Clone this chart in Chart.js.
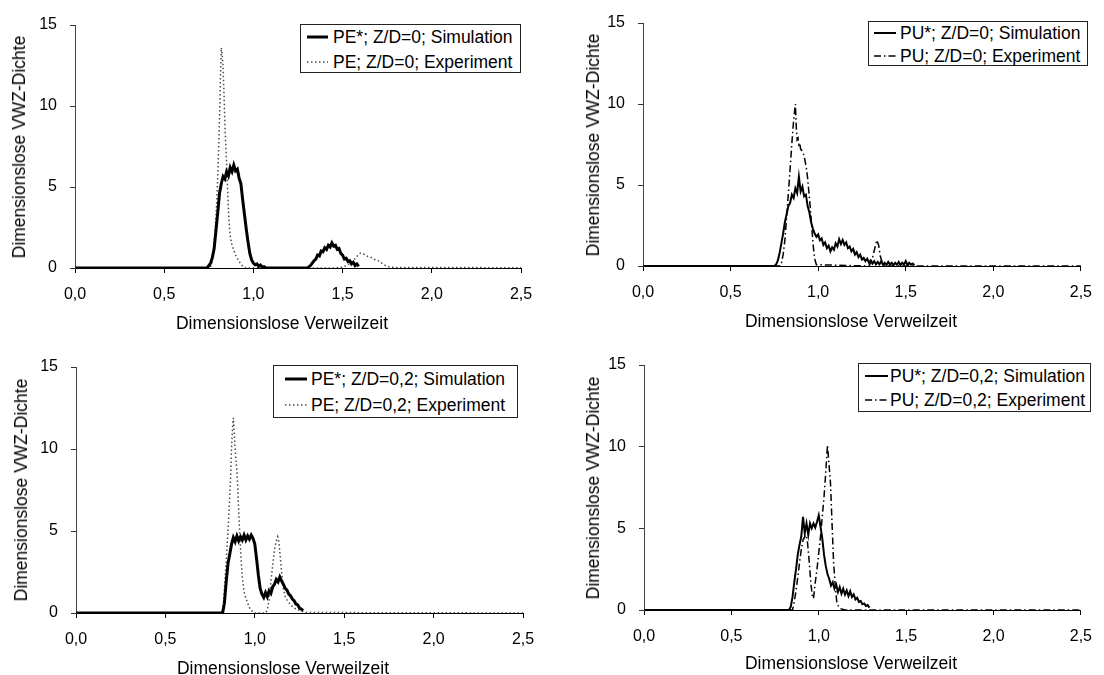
<!DOCTYPE html>
<html><head><meta charset="utf-8">
<script src="https://cdn.jsdelivr.net/npm/chart.js@4.4.1/dist/chart.umd.min.js"></script>
<style>
html,body{margin:0;padding:0;background:#fff;}
#wrap{position:relative;width:1104px;height:675px;overflow:hidden;background:#fff;font-family:"Liberation Sans",Arial,sans-serif;color:#000;}
canvas{position:absolute;}
.lg{position:absolute;border:1px solid #222;background:#fff;box-sizing:border-box;}
.row{position:absolute;height:20px;line-height:20px;white-space:nowrap;font-size:17.5px;}
.smp{position:absolute;}
.yt{position:absolute;white-space:nowrap;font-size:17.5px;line-height:20px;transform:translate(-50%,-50%) rotate(-90deg);}
.xt{position:absolute;white-space:nowrap;font-size:17.5px;line-height:20px;transform:translate(-50%,-50%);}
</style></head><body><div id="wrap"></div>
<script>
// ---------- tick values / labels ----------
const xTickValues = [0, 0.5, 1.0, 1.5, 2.0, 2.5];
const xTickLabels = ['0,0', '0,5', '1,0', '1,5', '2,0', '2,5'];
const yTickValues = [0, 5, 10, 15];
const yTickLabels = ['0', '5', '10', '15'];
const xAxisTitle = 'Dimensionslose Verweilzeit';
const yAxisTitle = 'Dimensionslose VWZ-Dichte';

// ---------- series names ----------
const p1Names = ['PE*; Z/D=0; Simulation', 'PE; Z/D=0; Experiment'];
const p2Names = ['PU*; Z/D=0; Simulation', 'PU; Z/D=0; Experiment'];
const p3Names = ['PE*; Z/D=0,2; Simulation', 'PE; Z/D=0,2; Experiment'];
const p4Names = ['PU*; Z/D=0,2; Simulation', 'PU; Z/D=0,2; Experiment'];

// ---------- panel 1: PE, Z/D=0 ----------
const p1SimX = [0, 0.74,
  0.75, 0.76, 0.77, 0.78, 0.79, 0.80, 0.81, 0.82, 0.83, 0.84,
  0.85, 0.86, 0.87, 0.88, 0.89, 0.90, 0.91, 0.92, 0.93, 0.94,
  0.95, 0.96, 0.97, 0.98, 0.99, 1.00, 1.01, 1.02, 1.03, 1.04,
  1.05, 1.06, 1.07,
  1.30, 1.31, 1.32, 1.33, 1.34, 1.35, 1.36, 1.37, 1.38, 1.39,
  1.40, 1.41, 1.42, 1.43, 1.44, 1.45, 1.46, 1.47, 1.48, 1.49,
  1.50, 1.51, 1.52, 1.53, 1.54, 1.55, 1.56, 1.57, 1.58, 1.59];
const p1SimY = [0, 0,
  0.15, 0.3, 0.65, 1.2, 2.3, 3.4, 4.6, 5.2, 5.65, 5.5,
  5.95, 5.7, 6.2, 5.95, 6.35, 6.0, 6.1, 5.55, 5.2, 4.2,
  3.3, 2.4, 1.6, 0.9, 0.5, 0.3, 0.2, 0.25, 0.1, 0.18,
  0.05, 0.08, 0,
  0, 0.06, 0.15, 0.3, 0.45, 0.55, 0.8, 0.75, 1.05, 1.0,
  1.25, 1.15, 1.4, 1.3, 1.55, 1.35, 1.4, 1.15, 1.2, 0.9,
  0.8, 0.55, 0.6, 0.4, 0.45, 0.25, 0.35, 0.15, 0.25, 0.1];
const p1ExpX = [0, 0.755, 0.765, 0.775, 0.785, 0.795,
  0.80, 0.805, 0.81, 0.815, 0.82, 0.825, 0.83, 0.835, 0.84, 0.845, 0.85, 0.855, 0.86, 0.865, 0.87,
  0.88, 0.89, 0.90, 0.91, 0.92, 0.93, 0.94, 0.95, 0.97,
  1.45, 1.50, 1.53, 1.56, 1.58, 1.60, 1.62, 1.64, 1.66, 1.68, 1.70, 1.72, 1.74, 1.76, 1.80, 2.5];
const p1ExpY = [0, 0, 0.2, 0.8, 2.2, 4.2,
  5.6, 7.3, 9.2, 11.6, 13.6, 13.2, 12.4, 10.8, 9.0, 7.6, 6.4, 5.0, 3.6, 2.6, 2.0,
  1.4, 1.1, 0.8, 0.6, 0.4, 0.25, 0.1, 0.03, 0,
  0, 0.05, 0.2, 0.45, 0.72, 0.92, 0.85, 0.72, 0.65, 0.52, 0.45, 0.3, 0.15, 0.07, 0.03, 0.02];

// ---------- panel 2: PU, Z/D=0 ----------
const p2SimX = [0,
  0.75, 0.76, 0.77, 0.78, 0.79, 0.80, 0.81, 0.82, 0.83, 0.84,
  0.85, 0.86, 0.87, 0.88, 0.89, 0.90, 0.91, 0.92, 0.93, 0.94,
  0.95, 0.96, 0.97, 0.98, 0.99, 1.00, 1.01, 1.02, 1.03, 1.04,
  1.05, 1.06, 1.07, 1.08, 1.09, 1.10, 1.11, 1.12, 1.13, 1.14,
  1.15, 1.16, 1.17, 1.18, 1.19, 1.20, 1.21, 1.22, 1.23, 1.24,
  1.25, 1.26, 1.27, 1.28, 1.29, 1.30, 1.31, 1.32, 1.33, 1.34,
  1.35, 1.36, 1.37, 1.38, 1.39, 1.40, 1.41, 1.42, 1.43, 1.44,
  1.45, 1.46, 1.47, 1.48, 1.49, 1.50, 1.51, 1.52, 1.53, 1.54,
  1.55];
const p2SimY = [0,
  0, 0.1, 0.35, 0.8, 1.4, 2.0, 2.7, 3.2, 3.7, 3.9,
  4.4, 4.2, 4.8, 4.5, 5.5, 4.6, 4.9, 4.3, 4.4, 3.7,
  3.3, 2.7, 2.3, 2.0, 1.8, 1.95, 1.6, 1.7, 1.3, 1.45,
  1.1, 1.25, 0.9, 1.15, 1.0, 1.4, 1.2, 1.65, 1.35, 1.6,
  1.3, 1.45, 1.1, 1.2, 0.9, 1.05, 0.7, 0.85, 0.55, 0.7,
  0.4, 0.5, 0.3, 0.45, 0.2, 0.35, 0.15, 0.3, 0.1, 0.25,
  0.1, 0.3, 0.08, 0.2, 0.05, 0.25, 0.1, 0.2, 0.05, 0.2,
  0.08, 0.25, 0.05, 0.2, 0.1, 0.3, 0.05, 0.2, 0.08, 0.15,
  0.05];
const p2ExpX = [0, 0.785, 0.79, 0.80, 0.81, 0.82, 0.83, 0.84, 0.85, 0.86, 0.87,
  0.875, 0.88, 0.885, 0.89, 0.895, 0.90,
  0.91, 0.92, 0.93, 0.935, 0.94, 0.945, 0.95, 0.955, 0.96, 0.965, 0.97, 0.975, 0.98, 0.99,
  1.29, 1.30, 1.31, 1.32, 1.335, 1.345, 1.355, 1.365, 1.375, 1.39, 2.5];
const p2ExpY = [0, 0, 0.15, 0.7, 1.6, 3.0, 4.5, 6.0, 7.6, 9.0, 10.0,
  8.6, 7.8, 7.9, 7.5, 7.6, 7.2,
  7.1, 6.8, 6.2, 5.9, 5.4, 4.8, 4.2, 3.6, 2.9, 2.2, 1.5, 0.9, 0.45, 0.08,
  0, 0.2, 0.5, 0.95, 1.6, 1.3, 0.6, 0.25, 0.06, 0, 0];

// ---------- panel 3: PE, Z/D=0,2 ----------
const p3SimX = [0,
  0.82, 0.83, 0.84, 0.85, 0.86, 0.87, 0.88, 0.89, 0.90, 0.91,
  0.92, 0.93, 0.94, 0.95, 0.96, 0.97, 0.98, 0.99, 1.00, 1.01,
  1.02, 1.03, 1.04, 1.05, 1.06, 1.07, 1.08, 1.09, 1.10, 1.11,
  1.12, 1.13, 1.14, 1.15, 1.16, 1.17, 1.18, 1.19, 1.20, 1.21,
  1.22, 1.23, 1.24, 1.25, 1.26, 1.27];
const p3SimY = [0,
  0, 0.6, 1.9, 3.0, 3.6, 4.2, 4.6, 4.35, 4.7, 4.4,
  4.65, 4.45, 4.75, 4.45, 4.7, 4.5, 4.75, 4.55, 4.2, 3.3,
  2.3, 1.5, 1.15, 0.95, 1.25, 1.0, 1.35, 1.2, 1.6, 1.75,
  2.05, 1.9, 2.2, 1.95, 1.75, 1.5, 1.4, 1.15, 1.05, 0.85,
  0.75, 0.55, 0.5, 0.3, 0.25, 0.15];
const p3ExpX = [0, 0.815, 0.825, 0.835, 0.845, 0.855, 0.865,
  0.87, 0.875, 0.88, 0.885, 0.89, 0.895, 0.90, 0.905, 0.91, 0.915, 0.92,
  0.93, 0.94, 0.95, 0.96, 0.975, 1.0,
  1.06, 1.07, 1.08, 1.09, 1.10, 1.11, 1.12, 1.128, 1.135, 1.14, 1.15, 1.16, 1.17, 1.18, 1.20, 1.22, 1.25, 1.28, 2.5];
const p3ExpY = [0, 0, 0.6, 2.3, 4.1, 6.0, 8.3,
  10.1, 11.2, 11.9, 11.0, 10.0, 9.3, 8.6, 7.6, 6.2, 5.0, 3.9,
  2.2, 1.3, 0.9, 0.6, 0.2, 0,
  0, 0.2, 0.8, 1.9, 2.9, 3.9, 4.4, 4.65, 4.3, 3.7, 2.5, 1.5, 1.0, 0.8, 0.5, 0.3, 0.15, 0.03, 0];

// ---------- panel 4: PU, Z/D=0,2 ----------
const p4SimX = [0,
  0.83, 0.84, 0.85, 0.86, 0.87, 0.88, 0.89, 0.90, 0.91, 0.92,
  0.93, 0.94, 0.95, 0.96, 0.97, 0.98, 0.99, 1.00, 1.01, 1.02,
  1.03, 1.04, 1.05, 1.06, 1.07, 1.08, 1.09, 1.10, 1.11, 1.12,
  1.13, 1.14, 1.15, 1.16, 1.17, 1.18, 1.19, 1.20, 1.21, 1.22,
  1.23, 1.24, 1.25, 1.26, 1.27, 1.28, 1.29];
const p4SimY = [0,
  0, 0.2, 0.8, 1.7, 2.5, 3.4, 4.0, 4.5, 5.7, 4.7,
  5.3, 4.6, 5.3, 5.0, 5.3, 5.05, 5.4, 5.8, 5.1, 4.4,
  3.4, 2.7, 2.2, 1.9, 1.5, 1.7, 1.3, 1.55, 1.1, 1.4,
  1.0, 1.3, 0.95, 1.2, 0.85, 1.15, 0.8, 0.95, 0.65, 0.75,
  0.5, 0.55, 0.35, 0.4, 0.25, 0.3, 0.15];
const p4ExpX = [0, 0.85, 0.86, 0.87, 0.88, 0.89, 0.90, 0.91, 0.92,
  0.927, 0.936, 0.946, 0.955, 0.963, 0.97, 0.979, 0.99, 1.0,
  1.01, 1.02, 1.03, 1.04, 1.05, 1.058, 1.067, 1.076, 1.085, 1.095, 1.104, 1.12, 1.15, 2.5];
const p4ExpY = [0, 0, 0.5, 1.2, 2.0, 2.9, 3.7, 4.3, 4.5,
  4.6, 4.1, 2.9, 1.6, 0.9, 0.7, 1.6, 2.5, 3.5,
  4.5, 5.7, 6.9, 8.4, 10.1, 9.0, 7.8, 5.3, 2.9, 1.4, 0.4, 0.1, 0, 0];

// ---------- styles ----------
const FONT = "'Liberation Sans', Arial, sans-serif";
const styles = {
  simPE: {color: '#000', width: 3, dash: []},
  expPE: {color: '#4a4a4a', width: 1.5, dash: [1.5, 2.5]},
  simPU: {color: '#000', width: 2, dash: []},
  expPU: {color: '#000', width: 1.5, dash: [7, 3, 1.5, 3]}
};

// ---------- layout (positions only) ----------
const panels = [
  {canvas: {l: 0, t: 0, w: 552, h: 337}, area: {l: 75, r: 521, t: 25, b: 268},
   sim: [p1SimX, p1SimY], exp: [p1ExpX, p1ExpY], names: p1Names, st: ['simPE', 'expPE'],
   legend: {l: 300, t: 24, w: 221, h: 49, rows: [13, 38], s0: 7, s1: 28, tx: 33},
   yTitle: [19, 147], xTitle: [282, 323]},
  {canvas: {l: 552, t: 0, w: 552, h: 337}, area: {l: 643, r: 1090, t: 23, b: 266},
   sim: [p2SimX, p2SimY], exp: [p2ExpX, p2ExpY], names: p2Names, st: ['simPU', 'expPU'],
   legend: {l: 868, t: 21, w: 220, h: 45, rows: [12, 35], s0: 6, s1: 28, tx: 32},
   yTitle: [593, 145], xTitle: [851, 321]},
  {canvas: {l: 0, t: 337, w: 552, h: 338}, area: {l: 76, r: 523, t: 367, b: 613},
   sim: [p3SimX, p3SimY], exp: [p3ExpX, p3ExpY], names: p3Names, st: ['simPE', 'expPE'],
   legend: {l: 273, t: 365, w: 245, h: 53, rows: [14, 40], s0: 12, s1: 34, tx: 38},
   yTitle: [21, 490], xTitle: [283, 668]},
  {canvas: {l: 552, t: 337, w: 552, h: 338}, area: {l: 644, r: 1092, t: 365, b: 610},
   sim: [p4SimX, p4SimY], exp: [p4ExpX, p4ExpY], names: p4Names, st: ['simPU', 'expPU'],
   legend: {l: 858, t: 363, w: 233, h: 49, rows: [13, 37], s0: 7, s1: 30, tx: 32},
   yTitle: [593, 488], xTitle: [851, 663]}
];

const Y_W = 60, X_H = 40;
const wrap = document.getElementById('wrap');

function pts(xs, ys) {
  const n = Math.min(xs.length, ys.length);
  const out = [];
  for (let i = 0; i < n; i++) out.push({x: xs[i], y: ys[i]});
  return out;
}

function sampleSvg(st, len) {
  const s = styles[st];
  const ns = 'http://www.w3.org/2000/svg';
  const svg = document.createElementNS(ns, 'svg');
  svg.setAttribute('width', len); svg.setAttribute('height', 12);
  const ln = document.createElementNS(ns, 'line');
  ln.setAttribute('x1', 0); ln.setAttribute('x2', len);
  ln.setAttribute('y1', 6); ln.setAttribute('y2', 6);
  ln.setAttribute('stroke', s.color);
  ln.setAttribute('stroke-width', s.width);
  if (s.dash.length) ln.setAttribute('stroke-dasharray', s.dash.join(','));
  svg.appendChild(ln);
  return svg;
}

panels.forEach((p, idx) => {
  const cv = document.createElement('canvas');
  cv.width = p.canvas.w; cv.height = p.canvas.h;
  cv.style.left = p.canvas.l + 'px'; cv.style.top = p.canvas.t + 'px';
  cv.style.width = p.canvas.w + 'px'; cv.style.height = p.canvas.h + 'px';
  wrap.appendChild(cv);

  const pad = {
    left: p.area.l - p.canvas.l - Y_W,
    right: p.canvas.l + p.canvas.w - p.area.r,
    top: p.area.t - p.canvas.t,
    bottom: p.canvas.t + p.canvas.h - p.area.b - X_H
  };
  const sSim = styles[p.st[0]], sExp = styles[p.st[1]];

  new Chart(cv.getContext('2d'), {
    type: 'line',
    data: {
      datasets: [
        {label: p.names[0], data: pts(p.sim[0], p.sim[1]), borderColor: sSim.color,
         borderWidth: sSim.width, borderDash: sSim.dash, pointRadius: 0, fill: false, tension: 0},
        {label: p.names[1], data: pts(p.exp[0], p.exp[1]), borderColor: sExp.color,
         borderWidth: sExp.width, borderDash: sExp.dash, pointRadius: 0, fill: false, tension: 0}
      ]
    },
    options: {
      responsive: false, animation: false, devicePixelRatio: 1, events: [],
      layout: {padding: pad},
      plugins: {legend: {display: false}, tooltip: {enabled: false}},
      scales: {
        x: {
          type: 'linear', min: 0, max: 2.5,
          afterBuildTicks: s => { s.ticks = xTickValues.map(v => ({value: v})); },
          afterFit: s => { s.height = X_H; },
          ticks: {callback: v => xTickLabels[xTickValues.indexOf(v)], autoSkip: false, maxRotation: 0,
                  color: '#000', padding: 12, font: {family: FONT, size: 16}},
          grid: {drawOnChartArea: false, drawTicks: true, tickLength: 5, tickColor: '#000'},
          border: {display: true, color: '#000', width: 1}
        },
        y: {
          type: 'linear', min: 0, max: 15,
          afterBuildTicks: s => { s.ticks = yTickValues.map(v => ({value: v})); },
          afterFit: s => { s.width = Y_W; },
          ticks: {callback: v => yTickLabels[yTickValues.indexOf(v)], color: '#000', padding: 13,
                  font: {family: FONT, size: 16}},
          grid: {drawOnChartArea: false, drawTicks: true, tickLength: 5, tickColor: '#333'},
          border: {display: true, color: '#444', width: 1}
        }
      }
    }
  });

  // legend box
  const lg = document.createElement('div');
  lg.className = 'lg';
  Object.assign(lg.style, {left: p.legend.l + 'px', top: p.legend.t + 'px',
    width: p.legend.w + 'px', height: p.legend.h + 'px'});
  p.names.forEach((nm, k) => {
    const cy = p.legend.rows[k] - 1;
    const sv = sampleSvg(p.st[k], p.legend.s1 - p.legend.s0);
    sv.setAttribute('class', 'smp');
    sv.style.left = (p.legend.s0 - 1) + 'px';
    sv.style.top = (cy - 6) + 'px';
    lg.appendChild(sv);
    const r = document.createElement('div');
    r.className = 'row';
    r.style.left = (p.legend.tx - 1) + 'px';
    r.style.top = (cy - 10) + 'px';
    r.textContent = nm;
    lg.appendChild(r);
  });
  wrap.appendChild(lg);

  const yt = document.createElement('div');
  yt.className = 'yt';
  yt.style.left = p.yTitle[0] + 'px'; yt.style.top = p.yTitle[1] + 'px';
  yt.textContent = yAxisTitle;
  wrap.appendChild(yt);

  const xt = document.createElement('div');
  xt.className = 'xt';
  xt.style.left = p.xTitle[0] + 'px'; xt.style.top = p.xTitle[1] + 'px';
  xt.textContent = xAxisTitle;
  wrap.appendChild(xt);
});
</script></body></html>
